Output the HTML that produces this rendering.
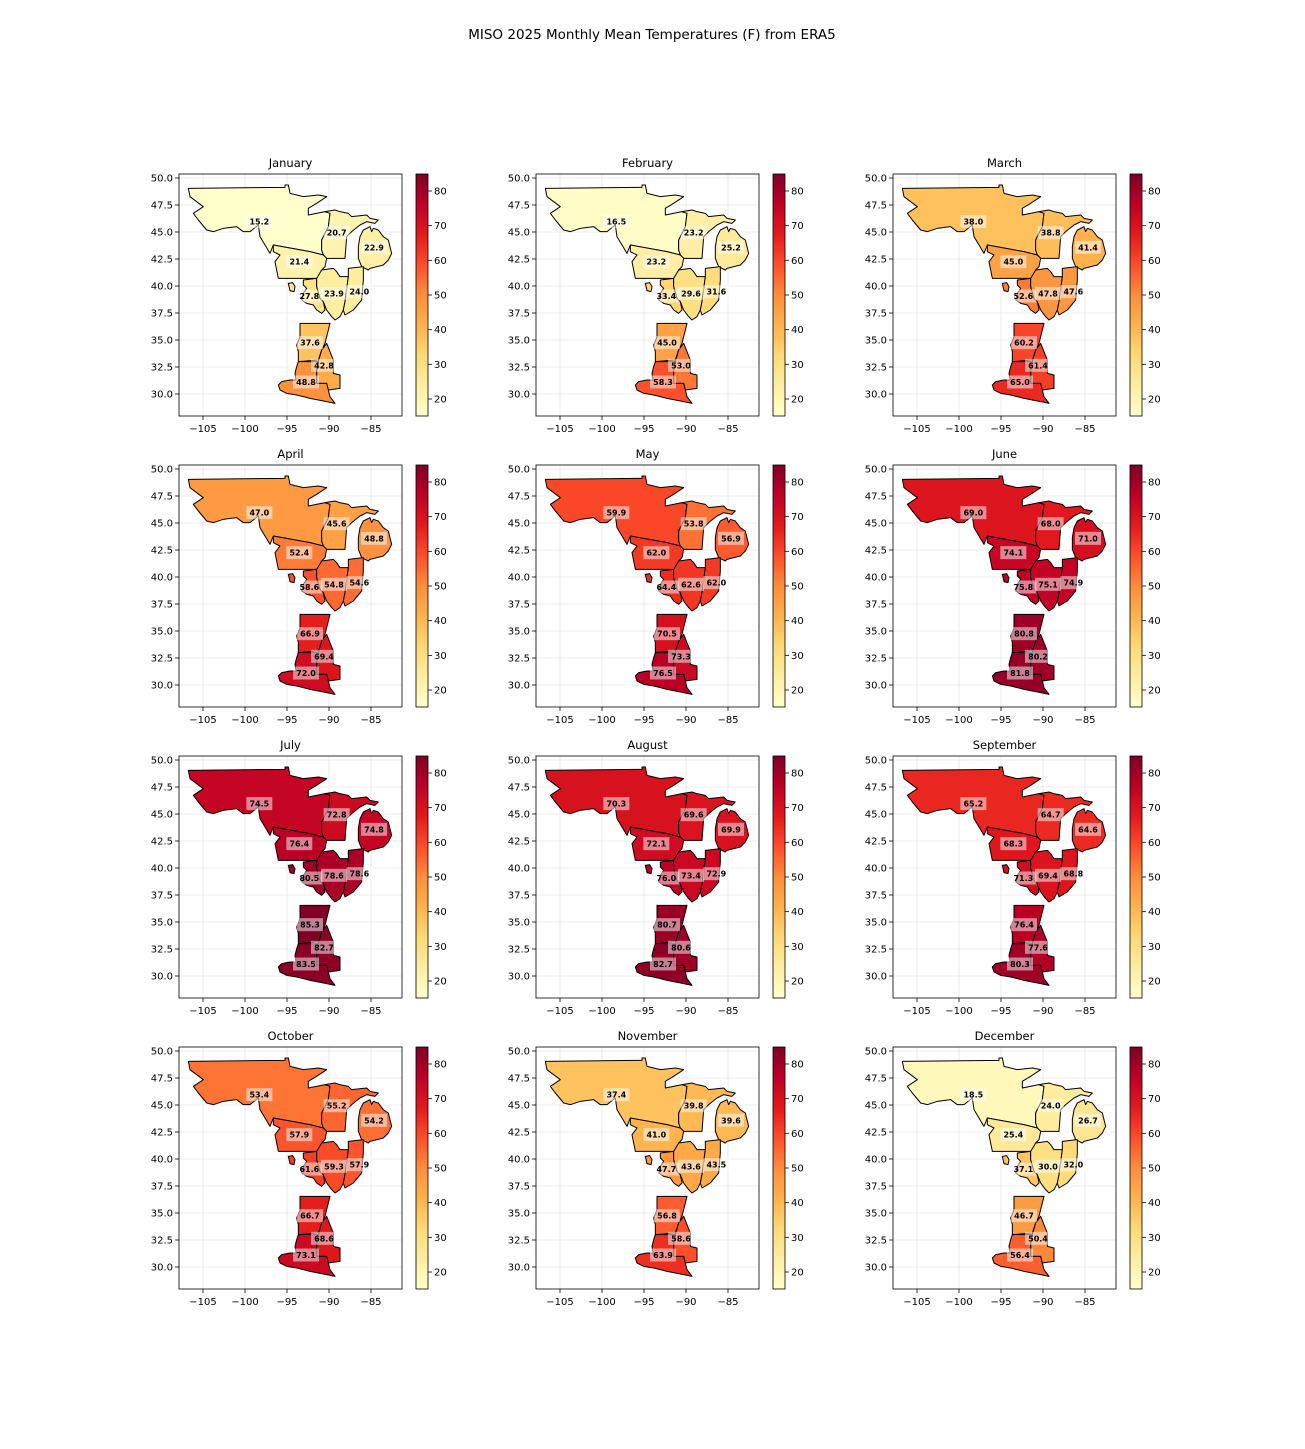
<!DOCTYPE html>
<html><head><meta charset="utf-8"><style>
body{margin:0;background:#fff;}
svg{display:block;font-family:"DejaVu Sans","Liberation Sans",sans-serif;}
</style></head><body>
<svg id="s" width="1305" height="1449" xmlns="http://www.w3.org/2000/svg">
<rect width="1305" height="1449" fill="#fff"/>
<defs>
<linearGradient id="cb" x1="0" y1="1" x2="0" y2="0">
<stop offset="0" stop-color="#ffffcc"/><stop offset="0.125" stop-color="#ffeda0"/><stop offset="0.25" stop-color="#fed976"/><stop offset="0.375" stop-color="#feb24c"/><stop offset="0.5" stop-color="#fd8d3c"/><stop offset="0.625" stop-color="#fc4e2a"/><stop offset="0.75" stop-color="#e31a1c"/><stop offset="0.875" stop-color="#bd0026"/><stop offset="1" stop-color="#800026"/>
</linearGradient>
</defs>
<text x="652" y="39" font-size="13.5" text-anchor="middle" fill="#000">MISO 2025 Monthly Mean Temperatures (F) from ERA5</text>
</svg>
<script>
var S=document.getElementById('s'),NS='http://www.w3.org/2000/svg';
function el(t,a,p){var e=document.createElementNS(NS,t);for(var k in a)e.setAttribute(k,a[k]);(p||S).appendChild(e);return e;}
var polys=[
"55,55 345,52 345,45 355,45 360,70 400,80 445,75 470,80 440,100 415,115 415,135 465,125 480,130 475,170 455,210 455,240 460,255 420,245 310,225 300,250 285,225 270,200 265,165 240,185 220,185 200,170 160,175 130,185 110,180 85,150 70,130 100,110 60,80",
"465,125 495,120 510,125 535,130 545,140 590,135 600,145 625,150 615,160 590,155 570,165 545,185 530,200 525,265 470,265 460,255 455,240 455,210 475,170 480,130",
"580,180 600,170 605,185 610,175 625,180 640,200 655,210 665,250 655,270 640,285 600,295 595,300 575,290 565,265 565,230 570,200",
"310,225 420,245 460,255 470,265 465,290 455,300 450,320 440,325 325,325 320,300 315,275 330,255 310,245",
"400,330 440,325 440,350 450,385 460,395 465,420 455,430 440,420 430,405 410,400 395,390 400,370 410,355 400,345",
"455,300 490,295 500,305 510,320 535,320 525,395 520,420 510,440 495,450 485,440 470,420 460,395 450,385 440,350 440,325",
"535,295 580,290 580,330 575,390 550,420 525,435 520,420 525,395 535,320",
"390,460 480,460 475,480 470,500 465,520 455,540 445,570 385,575 385,545 380,525 390,500",
"455,540 470,520 480,545 490,570 490,610 510,615 510,655 475,660 470,640 440,640 440,600 445,575",
"385,575 445,575 440,600 440,640 470,640 475,660 480,680 495,700 470,695 445,690 420,685 400,680 380,675 350,670 330,660 325,645 335,635 360,630 378,630 375,610 380,590"];
var island="355,340 368,338 375,350 372,365 360,362";
var lab=[[268,155],[500,188],[612,232],[388,275],[418,378],[492,370],[568,365],[420,518],[462,586],[408,636]];
var months=["January","February","March","April","May","June","July","August","September","October","November","December"];
var D=[[15.2,20.7,22.9,21.4,27.8,23.9,24.0,37.6,42.8,48.8],[16.5,23.2,25.2,23.2,33.4,29.6,31.6,45.0,53.0,58.3],[38.0,38.8,41.4,45.0,52.6,47.8,47.6,60.2,61.4,65.0],[47.0,45.6,48.8,52.4,58.6,54.8,54.6,66.9,69.4,72.0],[59.9,53.8,56.9,62.0,64.4,62.6,62.0,70.5,73.3,76.5],[69.0,68.0,71.0,74.1,75.8,75.1,74.9,80.8,80.2,81.8],[74.5,72.8,74.8,76.4,80.5,78.6,78.6,85.3,82.7,83.5],[70.3,69.6,69.9,72.1,76.0,73.4,72.9,80.7,80.6,82.7],[65.2,64.7,64.6,68.3,71.3,69.4,68.8,76.4,77.6,80.3],[53.4,55.2,54.2,57.9,61.6,59.3,57.9,66.7,68.6,73.1],[37.4,39.8,39.6,41.0,47.7,43.6,43.5,56.8,58.6,63.9],[18.5,24.0,26.7,25.4,37.1,30.0,32.0,46.7,50.4,56.4]];
var C=[[255,255,204],[255,237,160],[254,217,118],[254,178,76],[253,141,60],[252,78,42],[227,26,28],[189,0,38],[128,0,38]];
var vmin=15.1,vmax=84.9;
function col(v){var t=(v-vmin)/(vmax-vmin);t=Math.max(0,Math.min(1,t))*8;var i=Math.min(7,Math.floor(t)),f=t-i;var c=[0,1,2].map(function(k){return Math.round(C[i][k]+(C[i+1][k]-C[i][k])*f);});return 'rgb('+c.join(',')+')';}
var AX=[179,536,893],CBX=[416,773,1130],AY=[174,465,756,1047],W=223,H=242;
for(var m=0;m<12;m++){
 var ax=AX[m%3],ay=AY[Math.floor(m/3)],cx=CBX[m%3];
 for(var i=0;i<5;i++){var x=ax+24+42*i;el('line',{x1:x,y1:ay,x2:x,y2:ay+H,stroke:'#e6e6e6','stroke-width':0.8});
  el('line',{x1:x,y1:ay+H,x2:x,y2:ay+H+4,stroke:'#000','stroke-width':0.8});
  var t=el('text',{x:x,y:ay+H+16,'font-size':10,'text-anchor':'middle',fill:'#000'});t.textContent='\u2212'+(105-5*i);}
 for(var j=0;j<9;j++){var y=ay+4+27*j;el('line',{x1:ax,y1:y,x2:ax+W,y2:y,stroke:'#e6e6e6','stroke-width':0.8});
  el('line',{x1:ax-4,y1:y,x2:ax,y2:y,stroke:'#000','stroke-width':0.8});
  var t=el('text',{x:ax-6,y:y+3.5,'font-size':10,'text-anchor':'end',fill:'#000'});t.textContent=(50-2.5*j).toFixed(1);}
 var g=el('g',{transform:'translate('+(ax-9)+','+(ay-4)+') scale(0.33333)'});
 for(var k=0;k<10;k++){el('polygon',{points:polys[k],fill:col(D[m][k]),stroke:'#000','stroke-width':3,'stroke-linejoin':'round'},g);}
 el('polygon',{points:island,fill:col(D[m][4]),stroke:'#000','stroke-width':3},g);
 for(var k=0;k<10;k++){var lx=ax-9+lab[k][0]/3,ly=ay-4+lab[k][1]/3;
  el('rect',{x:lx-13,y:ly-6.5,width:26,height:13,fill:'#fff','fill-opacity':0.5});
  var t=el('text',{x:lx,y:ly+3,'font-size':8,'font-weight':'bold','text-anchor':'middle',fill:'#000'});t.textContent=D[m][k].toFixed(1);}
 el('rect',{x:ax,y:ay,width:W,height:H,fill:'none',stroke:'#000','stroke-width':0.8});
 var t=el('text',{x:ax+W/2,y:ay-7,'font-size':11.5,'text-anchor':'middle',fill:'#000'});t.textContent=months[m];
 el('rect',{x:cx,y:ay,width:12,height:H,fill:'url(#cb)',stroke:'#000','stroke-width':0.8});
 for(var v=20;v<=80;v+=10){var y=ay+(84.9-v)*3.467;el('line',{x1:cx+12,y1:y,x2:cx+16,y2:y,stroke:'#000','stroke-width':0.8});
  var t=el('text',{x:cx+18,y:y+3.5,'font-size':10,fill:'#000'});t.textContent=v;}
}
</script>
</body></html>
